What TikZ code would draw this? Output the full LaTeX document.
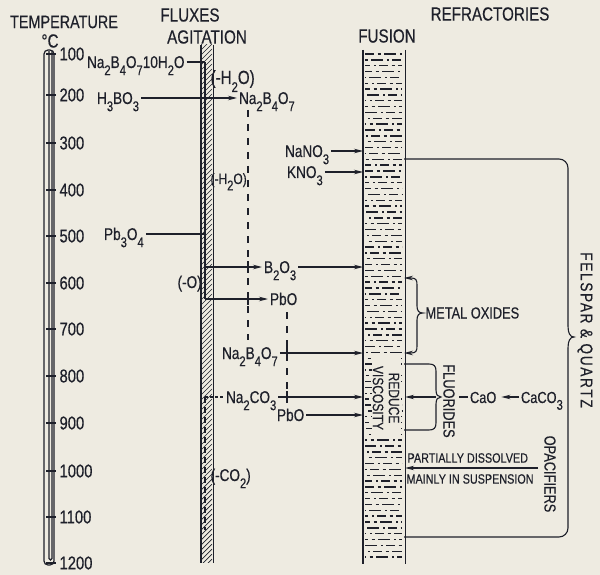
\documentclass[tikz,border=0pt]{standalone}
\usepackage{fontspec}
\setmainfont{Liberation Sans}[FakeStretch=0.8,FakeBold=0.4]
\usetikzlibrary{arrows.meta}
\definecolor{bg}{RGB}{238,235,225}
\definecolor{ink}{RGB}{30,32,42}
\newcommand\sbs[1]{\raisebox{-0.42em}{\fontsize{14}{14}\selectfont #1}}
\tikzset{
  every node/.style={inner sep=0pt},
  hdr/.style={font=\fontsize{19}{19}\selectfont},
  num/.style={anchor=west,font=\fontsize{18.5}{18.5}\selectfont},
  chem/.style={anchor=base west,font=\fontsize{17}{17}\selectfont,text height=12pt,text depth=0pt,inner xsep=1.5pt},
  chemsm/.style={anchor=base west,font=\fontsize{14}{14}\selectfont},
  lbl/.style={anchor=west,font=\fontsize{16}{16}\selectfont},
  note/.style={anchor=west,font=\fontsize{13.5}{13.5}\selectfont},
  vtext/.style={rotate=-90,font=\fontsize{16}{16}\selectfont,align=center},
  arr/.style={-{Stealth[length=9pt,width=4.5pt]}},
  dashline/.style={dash pattern=on 7pt off 7pt},
  hatch/.style={line width=0.7pt},
  fusdash/.style={line width=1.4pt},
}
\begin{document}
\begin{tikzpicture}[x=1pt,y=-1pt,color=ink,line width=1.1pt]
\fill[bg] (0,0) rectangle (600,575);
\useasboundingbox (0,0) rectangle (600,575);

% ---------- headers
\node[font=\fontsize{18}{18}\selectfont] (ttl) at (64,22) {TEMPERATURE};
\node[hdr] (degc) at (50,41) {°C};
\node[hdr] (flx) at (190,15) {FLUXES};
\node[hdr] (agt) at (207,37) {AGITATION};
\node[hdr] (fsn) at (387,36) {FUSION};
\node[hdr] (rfr) at (490,14) {REFRACTORIES};

% ---------- thermometer
\draw[line width=1.2pt,rounded corners=4pt] (44,50) rectangle (54,565);
\draw[rounded corners=1.5pt] (49,51) -- (49,560) -- (52,560) -- (52,51);
\foreach \t/\y in {100/54,200/95,300/143,400/190,500/236,600/283,700/329,800/376,900/423,1000/471,1100/517,1200/563}{
  \draw (46,\y) -- (56,\y);
  \node[num] (t\t) at (59,\y) {\t};
}

% ---------- agitation strip
\node[minimum width=11pt,minimum height=517pt,anchor=north west] (agit) at (201,45) {};
\begin{scope}
  \clip (201,45) rectangle (212,562);
  \foreach \i in {40,45,...,580} \draw[hatch] (201,\i) -- (212,\i-11);
\end{scope}
\draw (agit.north west) -- (agit.south west);
\draw (agit.north east) -- (agit.south east);
\coordinate (lane) at (205,0);

% ---------- fusion column
\node[minimum width=41pt,minimum height=513pt,anchor=north west] (fus) at (363,50) {};
\foreach \k in {0,...,86}{
  \pgfmathsetmacro\yy{54+\k*5.85}
  \pgfmathsetmacro\ph{mod(\k*13,37)}
  \draw[fusdash,dash pattern=on 9pt off 3.5pt on 3pt off 3.5pt on 12pt off 4pt on 2pt off 3pt,dash phase=\ph pt] (365,\yy) -- (402,\yy);
}
\fill[bg] (372,357) rectangle (401,439);
\draw (fus.north west) -- (fus.south west);
\draw (fus.north east) -- (fus.south east);
\node[vtext,font=\fontsize{15}{16}\selectfont] (visc) at (386,398) {REDUCE\\VISCOSITY};

% ---------- chemical labels
\node[chem] (n1) at (85,68) {Na\sbs{2}B\sbs{4}O\sbs{7}10H\sbs{2}O};
\node[chemsm,font=\fontsize{19}{19}\selectfont] (mh1) at (210,84) {(-H\sbs{2}O)};
\node[chem] (h3bo3) at (95,104) {H\sbs{3}BO\sbs{3}};
\node[chem] (nab1) at (237,104) {Na\sbs{2}B\sbs{4}O\sbs{7}};
\node[chemsm,font=\fontsize{15}{15}\selectfont] (mh2) at (210,184) {(-H\sbs{2}O)};
\node[chem] (nano3) at (283,157) {NaNO\sbs{3}};
\node[chem] (kno3) at (285,178) {KNO\sbs{3}};
\node[chem] (pb3o4) at (102,240) {Pb\sbs{3}O\sbs{4}};
\node[chemsm,font=\fontsize{17}{17}\selectfont] (mo) at (177,288) {(-O)};
\node[chem] (b2o3) at (262,273) {B\sbs{2}O\sbs{3}};
\node[chem] (pbo1) at (268,305) {PbO};
\node[chem] (nab2) at (220,359) {Na\sbs{2}B\sbs{4}O\sbs{7}};
\node[chem] (nac) at (224,403) {Na\sbs{2}CO\sbs{3}};
\node[chem] (pbo2) at (275,421) {PbO};
\node[chemsm,font=\fontsize{17}{17}\selectfont] (co2) at (210,481) {(-CO\sbs{2})};
\node[chem,font=\fontsize{16}{16}\selectfont] (cao) at (468,403) {CaO};
\node[chem,font=\fontsize{16}{16}\selectfont] (caco3) at (519,403) {CaCO\sbs{3}};

% ---------- connectors on the flux side
\draw (n1.east) -- (n1.east -| lane);
\draw[arr] (h3bo3.east) -- (nab1.west);
\draw (pb3o4.east) -- (pb3o4.east -| lane);
\draw (n1.east -| lane) -- (pbo1.west -| lane);
\draw[arr] (b2o3.west -| lane) -- (b2o3.west);
\draw[arr] (pbo1.west -| lane) -- (pbo1.west);
\draw[dash pattern=on 3pt off 2pt] (nac.west -| lane) -- (nac.west);
\coordinate (laneend) at (205,530);
\draw[dash pattern=on 6pt off 4pt] (nac.west -| lane) -- (laneend);

% dashed state lines
\coordinate (d1top) at (248,110);
\coordinate (d1bot) at (248,340);
\coordinate (d2top) at (287,312);
\coordinate (d2bot) at (287,405);
\draw[dashline] (d1top) -- (d1bot);
\draw[dashline] (d2top) -- (d2bot);
\draw (d1top |- b2o3.west) ++(0,-6) -- ++(0,12);
\draw (d1top |- pbo1.west) ++(0,-6) -- ++(0,12);
\draw (d2top |- nab2.east) ++(0,-6) -- ++(0,12);
\draw (d2top |- nac.east) ++(0,-6) -- ++(0,12);

% arrows into the fusion column
\draw[arr] (nano3.east) -- (nano3.east -| fus.west);
\draw[arr] (kno3.east) -- (kno3.east -| fus.west);
\draw[arr] (b2o3.east) -- (b2o3.east -| fus.west);
\draw[arr] (nab2.east) -- (nab2.east -| fus.west);
\draw[arr] (nac.east) -- (nac.east -| fus.west);
\draw[arr] (pbo2.east) -- (pbo2.east -| fus.west);

% ---------- refractories side
\coordinate (mo1) at (404,278);
\coordinate (mo2) at (404,353);
\draw[{Stealth[length=9pt,width=4.5pt]}-{Stealth[length=9pt,width=4.5pt]}] (mo1) -- (411,278) .. controls (416,278) and (417,280) .. (417,285) -- (417,306) .. controls (417,311) and (419,313) .. (423,313) .. controls (419,313) and (417,315) .. (417,320) -- (417,346) .. controls (417,351) and (416,353) .. (411,353) -- (mo2);
\node[lbl] (metox) at (425,313) {METAL OXIDES};

\coordinate (fl1) at (404,364);
\coordinate (fl2) at (404,430);
\coordinate (flm) at (436,397);
\draw (fl1) -- (429,364) .. controls (434,364) and (436,366) .. (436,371) -- (436,390) .. controls (436,395) and (438,397) .. (441,397) .. controls (438,397) and (436,399) .. (436,404) -- (436,423) .. controls (436,428) and (434,430) .. (429,430) -- (fl2);
\draw[arr] (flm) -- (flm -| fus.east);
\node[vtext] (fluor) at (449,401) {FLUORIDES};
\draw (cao.west) -- ++(-9,0);
\draw[arr,shorten >=3pt] (caco3.west) -- (cao.east);

\node[note] (pdis) at (407,458) {PARTIALLY DISSOLVED};
\node[note] (susp) at (406,479) {MAINLY IN SUSPENSION};
\coordinate (opR) at (538,468);
\draw[arr] (opR) -- (opR -| fus.east);
\node[vtext] (opac) at (550,474) {OPACIFIERS};

% big brace
\coordinate (bt) at (404,159);
\coordinate (bb) at (404,537);
\draw[rounded corners=9pt] (bt) -- (568,159) -- (568,326);
\draw (568,326) .. controls (568,333) and (570,337) .. (574,337) .. controls (570,337) and (568,341) .. (568,348);
\draw[rounded corners=9pt] (568,348) -- (568,537) -- (bb);
\node[vtext,font=\fontsize{17}{17}\selectfont\addfontfeature{LetterSpace=10}] (fq) at (585,330) {FELSPAR \& QUARTZ};
\end{tikzpicture}
\end{document}
